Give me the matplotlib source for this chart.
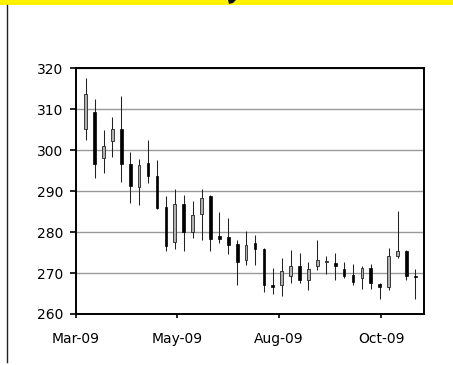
import matplotlib
matplotlib.use("Agg")
import matplotlib.pyplot as plt
import matplotlib.dates as mdates
from matplotlib.patches import Rectangle, Polygon
from matplotlib.lines import Line2D
import numpy as np
import pandas as pd

# Weekly price bars, March - November 2009
week_start = "2009-03-09"
n_weeks = 39
opens = [305.1, 309.4, 298.0, 302.3, 305.2, 296.7, 291.0, 296.8, 293.6, 286.2,
         277.7, 286.9, 280.1, 284.4, 288.7, 279.0, 278.8, 277.1, 273.1, 277.3,
         275.9, 267.2, 267.1, 269.2, 271.8, 268.4, 271.8, 272.7, 272.4, 271.0,
         269.6, 268.9, 271.2, 267.4, 266.7, 274.2, 275.5, 269.4, 269.2]
highs = [317.6, 312.5, 304.9, 308.0, 313.3, 299.6, 297.9, 302.5, 297.5, 288.7,
         290.5, 289.1, 287.7, 290.5, 289.1, 284.9, 283.4, 278.1, 280.2, 279.3,
         276.1, 271.2, 273.7, 275.7, 275.0, 272.6, 278.1, 274.2, 274.9, 272.8,
         272.2, 271.8, 272.2, 267.6, 276.1, 285.2, 275.7, 271.0, 269.6]
lows = [302.5, 293.2, 294.4, 298.3, 292.3, 287.1, 286.7, 292.0, 285.6, 275.5,
        275.9, 275.3, 278.5, 278.1, 275.3, 277.3, 274.6, 267.1, 272.0, 272.0,
        265.3, 265.0, 264.3, 267.6, 267.6, 265.9, 270.8, 269.8, 268.4, 268.8,
        267.1, 266.1, 266.1, 263.7, 265.8, 273.7, 268.4, 263.7, 268.5]
closes = [313.7, 296.6, 301.0, 305.2, 296.6, 291.3, 296.4, 293.8, 285.9, 276.5,
          286.9, 280.1, 284.1, 288.3, 278.3, 278.3, 276.9, 272.8, 276.8, 275.9,
          267.1, 266.7, 270.4, 271.8, 268.4, 271.0, 273.3, 273.0, 271.6, 269.4,
          267.7, 271.2, 267.6, 266.6, 274.2, 275.3, 269.2, 269.0, 268.9]

tick_dates = ["2009-03-01", "2009-05-20", "2009-08-08", "2009-10-27"]
tick_labels = ["Mar-09", "May-09", "Aug-09", "Oct-09"]
y_ticks = [260, 270, 280, 290, 300, 310, 320]

dates = pd.date_range(week_start, periods=n_weeks, freq="7D")
x = mdates.date2num(dates)
o = np.array(opens)
h = np.array(highs)
l = np.array(lows)
c = np.array(closes)

plt.rcParams["font.family"] = "DejaVu Sans"

W, H = 453, 365
fig = plt.figure(figsize=(W / 100, H / 100), dpi=100)
fig.patch.set_facecolor("white")

# header band and left rule
fig.patches.append(Rectangle((0, 1 - 5 / H), 1, 5 / H, transform=fig.transFigure,
                             facecolor="#fff200", edgecolor="none"))
fig.patches.append(Polygon([(228 / W, 1), (236 / W, 1), (233 / W, 1 - 3 / H),
                            (229 / W, 1 - 4 / H)], closed=True,
                           transform=fig.transFigure, facecolor="#111111",
                           edgecolor="none"))
fig.lines.append(Line2D([7.3 / W, 7.3 / W], [1 - 5 / H, 1 - 362 / H],
                        transform=fig.transFigure, color="#222222", lw=1.0))

left, right = 75.5 / W, 424.3 / W
bottom, top = (H - 314) / H, (H - 68.3) / H
ax = fig.add_axes([left, bottom, right - left, top - bottom])

body_w = 2.1  # days
up = c >= o
# wicks
ax.vlines(x, l, h, color="#222222", lw=0.75, zorder=3)
# rising weeks: hollow bodies; falling weeks: solid bodies
ax.bar(x[up], (c - o)[up], bottom=o[up], width=body_w, facecolor="#b0b0b0",
       edgecolor="#222222", linewidth=0.6, zorder=4)
ax.bar(x[~up], (o - c)[~up], bottom=c[~up], width=body_w, facecolor="#000000",
       edgecolor="#000000", linewidth=0.5, zorder=4)

ax.set_xlim(mdates.date2num(pd.Timestamp("2009-03-01")), x[-1])
ax.set_ylim(260, 320)
ax.set_yticks(y_ticks)
ax.set_xticks(mdates.date2num(pd.to_datetime(tick_dates)))
ax.set_xticklabels(tick_labels)

ax.yaxis.grid(True, color="#9a9a9a", lw=1.0)
ax.set_axisbelow(True)
for s in ax.spines.values():
    s.set_linewidth(1.4)
    s.set_color("black")
ax.tick_params(axis="x", direction="out", length=3, width=1.2, pad=10,
               labelsize=10, colors="black")
ax.tick_params(axis="y", direction="out", length=4, width=1.2, pad=5,
               labelsize=10, colors="black")

fig.savefig("out.png", dpi=100)
